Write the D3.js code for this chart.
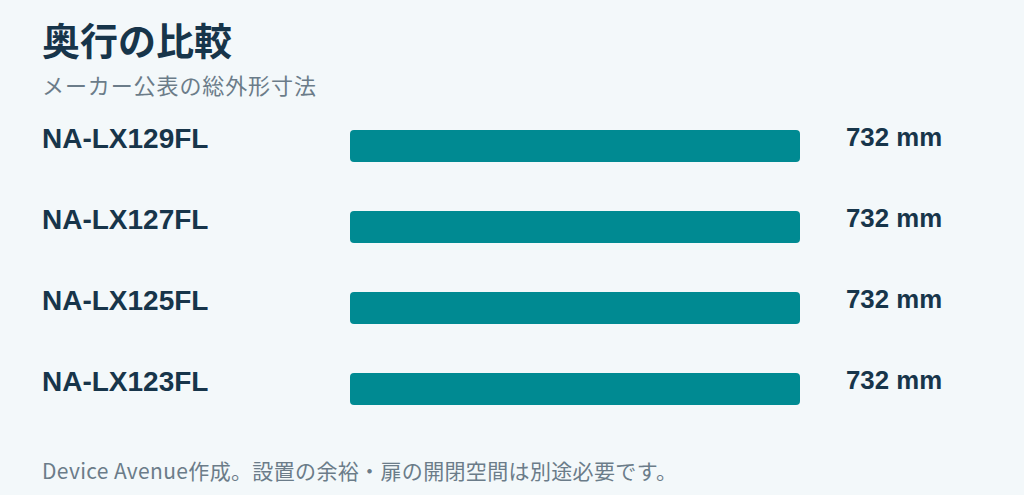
<!DOCTYPE html>
<html>
<head>
<meta charset="utf-8">
<script src="https://cdn.jsdelivr.net/npm/d3@7"></script>
<style>
  html, body { margin: 0; padding: 0; background: #f3f8fa; }
  svg { display: block; }
</style>
</head>
<body>
<svg id="chart" width="1024" height="495"></svg>
<script>
/* データ */
const models = ['NA-LX129FL', 'NA-LX127FL', 'NA-LX125FL', 'NA-LX123FL']
const depths = [732, 732, 732, 732]
const unit = 'mm'
const title = '奥行の比較'
const subtitle = 'メーカー公表の総外形寸法'
const note = 'Device Avenue作成。設置の余裕・扉の開閉空間は別途必要です。'

const svg = d3.select('#chart')
const width = 1024, height = 495
const jp = '"Noto Sans CJK JP", "Noto Sans", sans-serif'
const latin = '"Liberation Sans", Arial, sans-serif'

svg.append('rect').attr('width', width).attr('height', height).attr('fill', '#f3f8fa')

/* タイトル */
svg.append('text')
    .attr('x', 42).attr('y', 55)
    .attr('font-family', jp).attr('font-weight', 700).attr('font-size', 38)
    .attr('fill', '#17354a')
    .text(title)

svg.append('text')
    .attr('x', 42).attr('y', 94)
    .attr('font-family', jp).attr('font-size', 22).attr('letter-spacing', 0.9)
    .attr('fill', '#6b7c89')
    .text(subtitle)

/* scale */
const data = models.map((m, i) => ({model: m, value: depths[i]}))

const x = d3.scaleLinear()
    .domain([0, d3.max(depths)])
    .range([350, 800])

const y = d3.scaleBand()
    .domain(models)
    .range([105.5, 429.5])
    .paddingInner(49 / 81)
    .paddingOuter(49 / 162)

const rows = svg.selectAll('.row')
    .data(data)
    .join('g')
    .classed('row', true)

rows.append('rect')
    .attr('x', x(0))
    .attr('y', d => y(d.model))
    .attr('width', d => x(d.value) - x(0))
    .attr('height', y.bandwidth())
    .attr('rx', 4)
    .attr('fill', '#008a92')

rows.append('text')
    .attr('x', 42)
    .attr('y', d => y(d.model) + 18)
    .attr('font-family', latin).attr('font-weight', 700).attr('font-size', 28)
    .attr('fill', '#17354a')
    .text(d => d.model)

rows.append('text')
    .attr('x', 846)
    .attr('y', d => y(d.model) + 16)
    .attr('font-family', latin).attr('font-weight', 700).attr('font-size', 25.8)
    .attr('fill', '#17354a')
    .text(d => `${d.value} ${unit}`)

/* 注記 */
svg.append('text')
    .attr('x', 42).attr('y', 479)
    .attr('font-family', jp).attr('font-size', 21).attr('letter-spacing', 0.35)
    .attr('fill', '#6b7c89')
    .text(note)
</script>
</body>
</html>
